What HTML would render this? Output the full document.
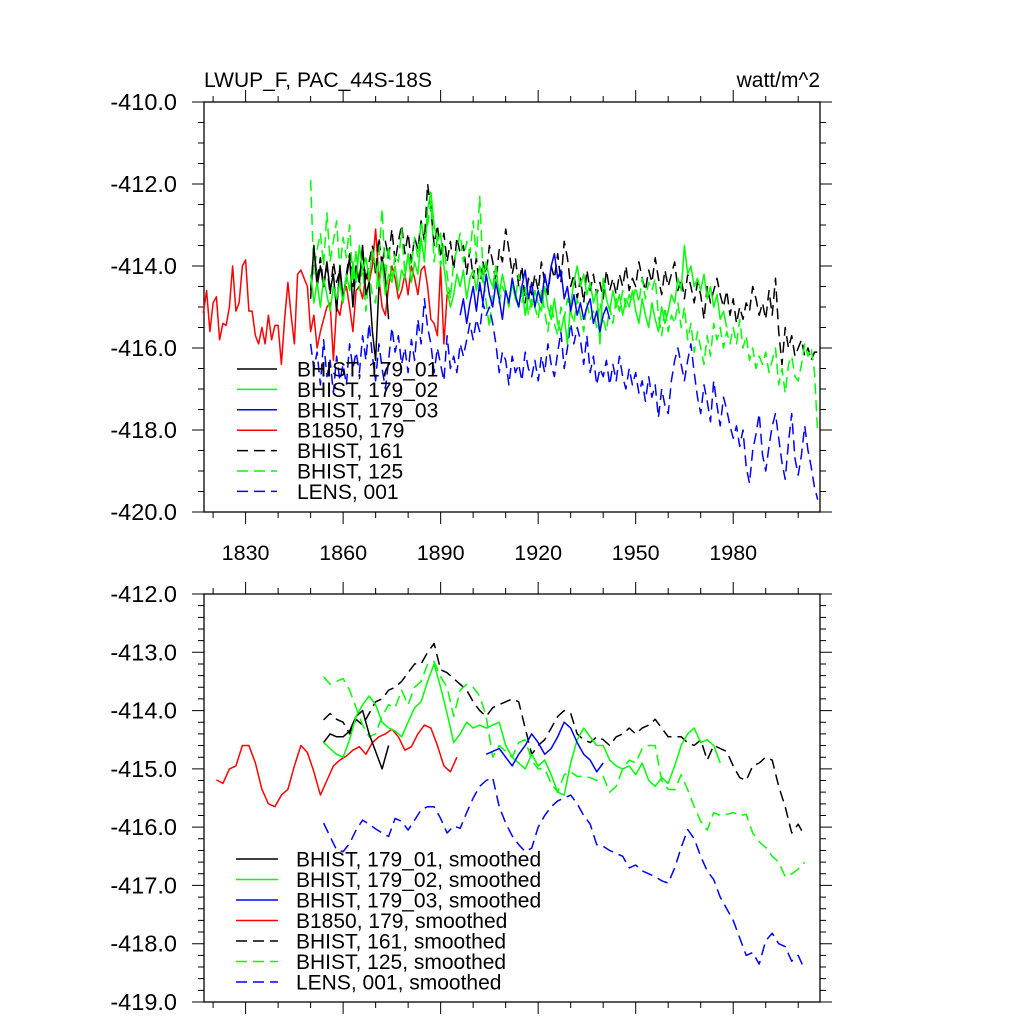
<!DOCTYPE html>
<html><head><meta charset="utf-8"><style>
body{margin:0;background:#fff;}
svg text{font-family:"Liberation Sans",sans-serif;}
</style></head><body>
<svg id="chart" width="1024" height="1024" xmlns="http://www.w3.org/2000/svg">
<rect width="1024" height="1024" fill="#fff"/>
<g id="g"></g>
</svg>
<script>
// ---- data ----
const xTickYears = [1830,1860,1890,1920,1950,1980];
const topYTicks = [-410,-412,-414,-416,-418,-420];
const botYTicks = [-412,-413,-414,-415,-416,-417,-418,-419];
const legendTop = ["BHIST, 179_01","BHIST, 179_02","BHIST, 179_03","B1850, 179","BHIST, 161","BHIST, 125","LENS, 001"];
const legendBot = ["BHIST, 179_01, smoothed","BHIST, 179_02, smoothed","BHIST, 179_03, smoothed","B1850, 179, smoothed","BHIST, 161, smoothed","BHIST, 125, smoothed","LENS, 001, smoothed"];

// raw annual series (start years)
const rawStart = [1850,1850,1896,1817,1850,1850,1850];
const raw179_01 = [-414.8,-413.5,-414.5,-414.0,-414.5,-413.9,-414.6,-414.2,-415.1,-414.0,-414.8,-414.3,-413.8,-415.0,-414.0,-414.4,-413.5,-414.7,-414.4,-415.6,-416.3,-414.5,-413.8,-414.3,-415.3];
const raw179_02 = [-414.2,-414.9,-414.4,-415.0,-414.3,-414.7,-415.1,-414.5,-414.8,-414.4,
-414.9,-414.2,-414.6,-413.9,-414.4,-413.5,-414.1,-413.8,-414.3,-413.6,
-414.0,-414.5,-413.9,-414.7,-414.2,-414.4,-414.0,-414.6,-414.1,-414.3,
-413.7,-414.4,-413.9,-414.2,-413.3,-413.9,-412.6,-412.2,-413.0,-413.4,
-413.2,-414.0,-414.6,-415.0,-414.7,-414.2,-414.5,-414.1,-414.8,-414.3,
-414.1,-414.6,-414.0,-414.4,-413.9,-414.3,-414.5,-414.0,-414.7,-414.2,
-414.6,-414.9,-414.4,-414.8,-415.0,-414.5,-415.2,-414.7,-415.0,-414.6,
-414.9,-415.1,-414.5,-415.0,-415.3,-414.8,-415.4,-415.6,-415.2,-415.9,
-414.9,-414.4,-414.0,-414.5,-414.2,-414.7,-414.4,-414.9,-414.6,-415.9,
-414.3,-414.8,-415.1,-414.6,-415.0,-414.7,-415.2,-414.8,-415.0,-414.6,
-415.1,-415.4,-414.8,-415.2,-415.5,-414.9,-415.3,-415.6,-415.0,-415.4,
-415.1,-414.7,-414.9,-414.3,-414.6,-413.5,-414.2,-414.0,-414.5,-414.3,
-414.6,-414.2,-414.8,-414.5,-415.0,-414.7,-415.3,-415.1,-415.5];
const raw179_03 = [-415.2,-414.8,-415.4,-414.9,-414.5,-415.1,-414.4,-414.9,-414.2,-414.7,
-415.0,-414.4,-414.8,-415.3,-414.6,-414.9,-414.3,-414.7,-415.0,-414.5,
-414.1,-414.8,-414.4,-415.0,-414.6,-414.9,-414.2,-414.6,-414.0,-413.7,
-414.3,-414.1,-414.8,-414.5,-415.1,-414.7,-415.2,-414.9,-415.3,-415.0,
-414.8,-415.4,-415.1,-415.6,-415.2,-415.0,-415.3];
const rawB1850 = [-415.15,-414.6,-415.6,-414.9,-414.75,-415.8,-415.4,-415.45,-415.0,-414.0,-415.1,-414.9,-414.0,-413.85,-415.1,-415.1,-415.7,-415.9,-415.5,-415.9,-415.2,-415.8,-415.45,-415.45,-416.4,-415.3,-414.4,-415.2,-415.9,-414.2,-414.1,-414.3,-414.5,
-415.6,-415.2,-416.0,-415.6,-415.3,-415.0,-414.9,-416.3,-415.0,-415.2,-414.7,-414.5,-415.0,-415.6,-414.6,-414.5,-414.8,-414.2,-414.4,-414.0,-413.1,-414.3,-415.0,-415.2,-414.5,-414.0,-414.3,-414.8,-414.6,-414.2,-414.7,-414.0,-414.3,-414.7,-414.1,-414.0,-414.5,-415.3,-415.4,-415.7,-414.0,-415.9,-414.7,-414.6];
const raw161 = [-414.6,-413.6,-414.3,-413.8,-414.5,-414.0,-414.7,-413.9,-414.4,-414.1,
-414.8,-414.2,-413.7,-414.5,-414.0,-414.3,-413.6,-414.4,-413.9,-413.5,
-414.2,-413.3,-414.0,-413.4,-413.8,-413.1,-413.9,-413.4,-413.0,-413.7,
-413.2,-413.9,-413.3,-413.6,-412.9,-413.4,-412.0,-412.6,-413.5,-413.0,
-413.8,-413.2,-413.9,-413.4,-414.1,-413.3,-413.7,-413.5,-414.2,-413.6,
-414.3,-413.8,-414.6,-413.9,-414.2,-413.5,-413.9,-414.4,-413.6,-413.9,
-413.1,-413.6,-414.2,-413.8,-414.5,-414.0,-414.9,-414.3,-414.7,-414.2,
-414.6,-413.9,-414.4,-414.7,-414.0,-414.3,-413.7,-414.4,-413.4,-413.8,
-414.5,-414.2,-414.8,-414.3,-414.9,-414.1,-414.6,-414.2,-414.7,-414.4,
-414.8,-414.1,-414.6,-414.3,-414.7,-414.2,-414.5,-414.0,-414.6,-414.3,
-414.5,-413.9,-414.3,-414.6,-414.1,-414.4,-413.8,-414.3,-414.7,-414.1,
-414.5,-414.2,-413.9,-414.6,-414.3,-414.8,-414.2,-414.5,-414.9,-414.4,
-414.7,-415.3,-414.5,-414.9,-414.6,-414.3,-414.7,-415.0,-414.6,-415.2,
-414.8,-415.4,-415.0,-415.3,-414.9,-415.1,-414.5,-414.8,-415.2,-414.9,
-415.3,-414.6,-415.2,-414.3,-415.6,-416.4,-415.5,-416.0,-415.7,-416.2,
-416.0,-415.8,-416.2,-416.0,-416.3,-416.1,-416.1];
const raw125 = [-411.9,-414.2,-413.6,-413.2,-414.0,-412.7,-413.9,-413.4,-412.9,-414.1,
-413.3,-413.8,-413.0,-414.4,-413.6,-414.6,-414.0,-415.1,-414.2,-414.7,
-414.9,-413.8,-412.6,-414.3,-413.5,-414.4,-413.7,-413.9,-413.1,-414.2,
-413.7,-414.0,-413.3,-413.8,-412.9,-413.4,-413.0,-412.4,-413.9,-413.3,
-414.0,-413.5,-414.2,-414.8,-413.9,-413.6,-413.2,-413.9,-413.4,-413.7,
-412.9,-413.8,-412.3,-414.1,-414.9,-415.5,-414.6,-414.3,-414.9,-414.5,
-414.7,-415.0,-414.4,-414.8,-414.2,-414.9,-414.5,-415.2,-414.8,-415.0,
-415.3,-414.6,-415.1,-415.6,-414.9,-415.4,-415.7,-415.0,-415.3,-414.8,
-415.1,-415.4,-414.8,-415.2,-415.6,-414.9,-415.3,-415.1,-415.5,-414.9,
-415.3,-415.6,-415.0,-415.4,-414.8,-415.1,-414.6,-415.0,-414.7,-414.9,
-414.5,-414.9,-414.3,-414.8,-414.4,-414.6,-414.3,-415.2,-415.7,-415.0,
-415.6,-415.2,-415.4,-414.9,-415.5,-415.0,-415.8,-415.4,-416.1,-415.6,
-416.0,-416.4,-415.7,-416.2,-415.4,-415.8,-415.5,-416.0,-415.6,-415.9,
-415.5,-415.9,-415.3,-416.0,-415.7,-416.3,-416.0,-416.5,-416.2,-416.4,
-416.1,-416.6,-416.3,-416.0,-416.9,-416.5,-417.1,-416.4,-416.2,-416.7,
-416.8,-416.4,-415.9,-416.2,-416.0,-416.6,-418.1];
const rawLENS = [-415.9,-416.5,-416.1,-416.9,-415.8,-416.7,-416.3,-417.1,-416.2,-416.8,
-416.4,-416.9,-415.9,-416.5,-416.1,-416.6,-415.7,-416.3,-415.4,-416.2,
-416.8,-415.9,-416.5,-417.0,-416.3,-415.5,-416.1,-415.7,-416.4,-416.0,
-416.6,-415.8,-416.3,-415.3,-415.9,-414.8,-415.5,-415.9,-416.6,-416.0,
-416.4,-416.8,-415.7,-416.5,-416.2,-416.6,-415.9,-416.2,-415.8,-415.4,
-415.8,-415.3,-415.6,-414.9,-415.2,-415.0,-415.4,-415.9,-416.6,-416.1,
-416.3,-416.9,-416.2,-416.6,-416.4,-416.8,-416.1,-416.5,-416.7,-416.3,
-416.8,-416.2,-416.6,-415.9,-416.4,-416.7,-416.1,-415.6,-416.5,-416.0,
-415.4,-415.9,-415.5,-415.8,-416.4,-415.7,-416.6,-416.2,-416.9,-416.5,
-416.7,-416.3,-416.9,-416.4,-416.8,-416.2,-416.7,-417.0,-416.5,-416.9,
-416.6,-417.1,-416.8,-417.3,-416.7,-417.2,-416.9,-417.7,-417.0,-417.4,
-417.6,-416.8,-416.3,-416.0,-416.4,-416.8,-416.3,-415.9,-416.6,-417.2,
-417.6,-416.9,-417.3,-417.8,-416.8,-417.4,-417.9,-417.2,-417.5,-417.9,
-418.2,-417.9,-418.4,-418.0,-418.9,-419.3,-418.5,-418.1,-417.6,-418.6,
-419.0,-418.4,-417.9,-417.6,-418.2,-418.8,-419.2,-418.3,-417.6,-418.7,
-419.1,-418.6,-417.9,-418.5,-418.9,-419.4,-419.7];

// smoothed series (2-year step, start years)
const smStart = [1854,1854,1904,1821,1854,1854,1854];
const sm179_01 = [-414.55,-414.4,-414.45,-414.45,-414.35,-414.1,-414.0,-414.4,-414.7,-415.0,-414.6];
const sm179_02 = [-414.55,-414.65,-414.75,-414.8,-414.5,-414.1,-413.9,-413.75,-413.9,-414.2,-414.3,-414.35,-414.45,-414.2,-413.95,-413.85,-413.5,-413.2,-413.6,-414.05,-414.55,-414.4,-414.2,-414.3,-414.25,-414.3,-414.25,-414.2,-414.6,-414.8,-414.9,-415.0,-414.75,-414.95,-414.85,-415.1,-415.4,-415.45,-414.9,-414.5,-414.3,-414.45,-414.6,-414.6,-414.85,-414.95,-415.0,-414.95,-415.1,-414.9,-415.2,-415.3,-415.15,-415.25,-414.95,-414.6,-414.4,-414.3,-414.55,-414.5,-414.6,-414.9];
const sm179_03 = [-414.75,-414.7,-414.65,-414.8,-414.95,-414.75,-414.6,-414.4,-414.55,-414.75,-414.65,-414.45,-414.2,-414.3,-414.55,-414.75,-414.85,-415.05,-414.9];
const smB1850 = [-415.19,-415.25,-415.0,-414.95,-414.6,-414.6,-414.9,-415.35,-415.6,-415.65,-415.45,-415.35,-414.95,-414.6,-414.72,-415.05,-415.45,-415.2,-414.95,-414.85,-414.78,-414.68,-414.62,-414.75,-414.55,-414.45,-414.4,-414.32,-414.45,-414.68,-414.62,-414.4,-414.25,-414.3,-414.6,-414.95,-415.05,-414.8];
const sm161 = [-414.16,-414.05,-414.15,-414.2,-414.4,-414.15,-414.25,-414.05,-413.85,-413.8,-413.65,-413.6,-413.5,-413.35,-413.2,-413.2,-413.0,-412.85,-413.3,-413.35,-413.45,-413.55,-413.65,-413.85,-414.0,-414.1,-413.95,-413.9,-413.85,-413.8,-413.85,-414.3,-414.75,-414.6,-414.5,-414.3,-414.1,-414.0,-414.05,-414.4,-414.5,-414.55,-414.45,-414.5,-414.6,-414.45,-414.4,-414.3,-414.4,-414.3,-414.25,-414.15,-414.3,-414.45,-414.45,-414.45,-414.55,-414.6,-414.5,-414.85,-414.6,-414.65,-414.7,-414.95,-415.15,-415.2,-414.95,-414.9,-414.8,-414.85,-415.3,-415.65,-416.1,-415.95,-416.15];
const sm125 = [-413.42,-413.55,-413.5,-413.45,-413.65,-413.95,-414.25,-414.45,-414.4,-414.1,-413.9,-413.95,-413.65,-413.9,-413.6,-413.5,-413.2,-413.16,-413.42,-413.6,-414.1,-413.65,-413.55,-413.6,-413.75,-414.1,-414.8,-414.6,-414.7,-414.8,-414.55,-414.5,-414.85,-415.0,-415.0,-415.25,-415.4,-415.1,-415.05,-415.13,-415.13,-415.15,-415.2,-415.13,-415.4,-415.3,-415.0,-414.85,-414.9,-414.65,-414.6,-414.6,-415.2,-415.35,-415.36,-415.1,-415.36,-415.65,-415.9,-416.05,-415.75,-415.8,-415.78,-415.75,-415.8,-415.78,-416.1,-416.25,-416.35,-416.5,-416.6,-416.85,-416.8,-416.72,-416.6];
const smLENS = [-415.93,-416.16,-416.39,-416.42,-416.28,-416.05,-415.88,-415.95,-416.03,-416.1,-416.16,-415.85,-415.9,-416.05,-415.88,-415.7,-415.65,-415.65,-415.85,-416.1,-415.98,-416.02,-415.75,-415.5,-415.3,-415.2,-415.15,-415.65,-415.93,-416.15,-416.3,-416.42,-416.36,-416.0,-415.8,-415.65,-415.55,-415.5,-415.45,-415.6,-415.8,-415.95,-416.3,-416.33,-416.4,-416.45,-416.5,-416.7,-416.65,-416.75,-416.8,-416.85,-416.92,-416.96,-416.7,-416.35,-416.04,-416.2,-416.5,-416.75,-416.9,-417.2,-417.4,-417.6,-417.9,-418.2,-418.15,-418.35,-417.95,-417.82,-418.0,-418.05,-418.3,-418.2,-418.45];

// ---- drawing ----
const NS='http://www.w3.org/2000/svg';
const G=document.getElementById('g');
const X0=204,X1=820,YR0=1817.2,YR1=2006.7;
function xs(yr){return X0+(yr-YR0)*(X1-X0)/(YR1-YR0);}
const T={top:102,bot:512,vmax:-410,vmin:-420};
const B={top:594,bot:1002,vmax:-412,vmin:-419};
function ysFor(p){return v=>p.top+(p.vmax-v)*(p.bot-p.top)/(p.vmax-p.vmin);}
const yT=ysFor(T), yB=ysFor(B);
function mk(tag,attrs,parent){const e=document.createElementNS(NS,tag);for(const k in attrs)e.setAttribute(k,attrs[k]);(parent||G).appendChild(e);return e;}
const colors=['#000','#00ff00','#0000ff','#ff0000','#000','#00ff00','#0000ff'];
const dashed=[false,false,false,false,true,true,true];
const names=['bhist-179-01','bhist-179-02','bhist-179-03','b1850-179','bhist-161','bhist-125','lens-001'];

function axes(p,ys,ticks,minorStep,prefix,showX){
  const box=mk('rect',{x:X0,y:p.top,width:X1-X0,height:p.bot-p.top,fill:'none',stroke:'#000','stroke-width':1.3});
  
  
  let d='';
  for(let y=1820;y<=2000;y+=10){const x=xs(y);const L=(y-1830)%30===0?12:6;
    d+=`M${x},${p.top}v${-L}M${x},${p.bot}v${L}`;}
  const n=Math.round((p.vmax-p.vmin)/minorStep);
  for(let i=0;i<=n;i++){const v=p.vmax-i*minorStep;const y=ys(v);
    const maj=ticks.some(t=>Math.abs(t-v)<1e-6);const L=maj?12:6;
    d+=`M${X0},${y}h${-L}M${X1},${y}h${L}`;}
  const tk=mk('path',{d:d,stroke:'#000','stroke-width':1,fill:'none'});
  
  
  ticks.forEach(v=>{const t=mk('text',{x:177,y:ys(v)+8,'text-anchor':'end','font-size':23.5});t.textContent=v.toFixed(1);
    
    });
  if(showX) xTickYears.forEach(yr=>{const t=mk('text',{x:xs(yr),y:p.bot+48,'text-anchor':'middle','font-size':21.5});t.textContent=yr;
    
    });
}
axes(T,yT,topYTicks,0.5,'top',true);
axes(B,yB,botYTicks,0.2,'bottom',false);

function series(arr,start,step,ys,i,prefix){
  const pts=arr.map((v,k)=>xs(start+k*step).toFixed(1)+','+ys(v).toFixed(1)).join(' ');
  const a={points:pts,fill:'none',stroke:colors[i],'stroke-width':1.5,'stroke-linejoin':'round'};
  if(dashed[i])a['stroke-dasharray']='11,6';
  const e=mk('polyline',a);
  
  
}
const rawAll=[raw179_01,raw179_02,raw179_03,rawB1850,raw161,raw125,rawLENS];
const smAll=[sm179_01,sm179_02,sm179_03,smB1850,sm161,sm125,smLENS];
const order=[3,4,5,6,0,1,2];
order.forEach(i=>series(rawAll[i],rawStart[i],1,yT,i,'top'));
order.forEach(i=>series(smAll[i],smStart[i],2,yB,i,'bottom'));

function legend(labels,y0,dy,lx0,lx1,tx,prefix){
  labels.forEach((s,i)=>{const y=y0+i*dy;
    const a={x1:lx0,x2:lx1,y1:y,y2:y,stroke:colors[i],'stroke-width':1.5};
    if(dashed[i])a['stroke-dasharray']='11,6';
    const l=mk('line',a);
    
    
    const t=mk('text',{x:tx,y:y+7.5,'font-size':21});t.textContent=s;
    
    });
}
legend(legendTop,369,20.4,237,277,297,'top');
legend(legendBot,859,20.5,236,278,296,'bottom');

const t1=mk('text',{x:204,y:87,'font-size':21});t1.textContent='LWUP_F, PAC_44S-18S';


const t2=mk('text',{x:820,y:87,'font-size':21,'text-anchor':'end'});t2.textContent='watt/m^2';


</script>
</body></html>
